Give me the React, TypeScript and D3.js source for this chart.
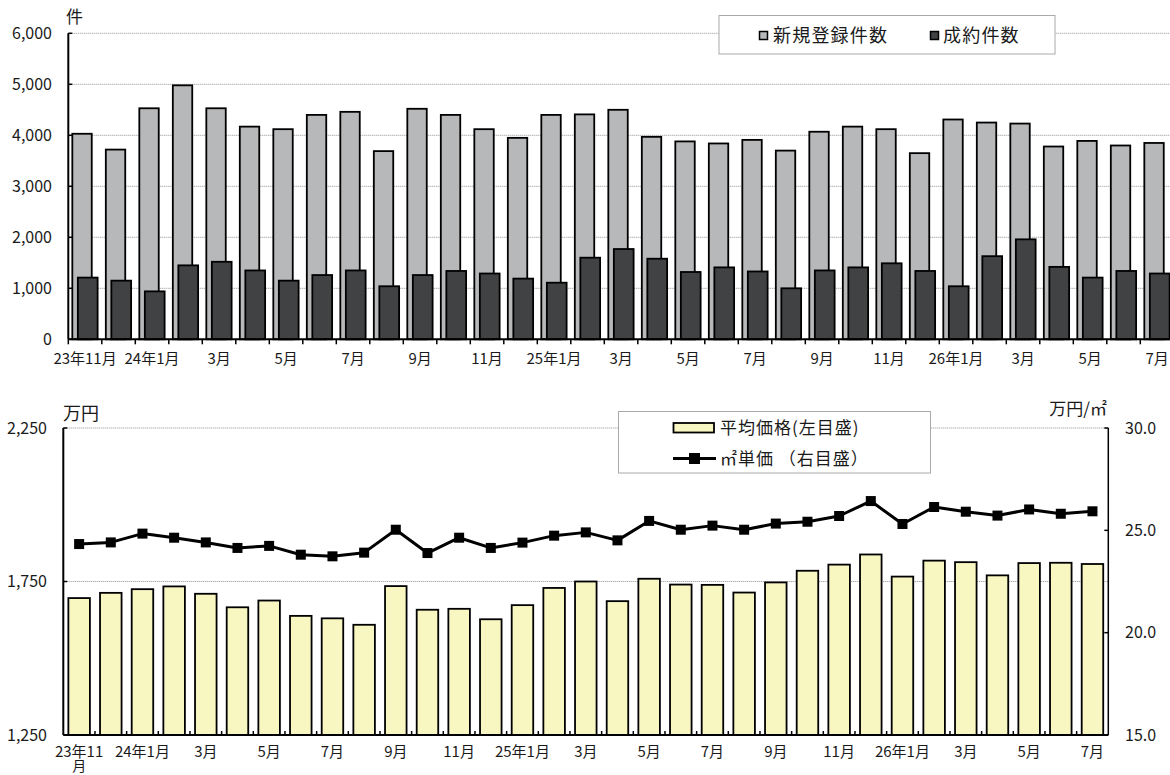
import * as d3 from "d3";

const monthLabels = [
  "23年11月", "", "24年1月", "", "3月", "", "5月", "", "7月", "", "9月", "", "11月", "",
  "25年1月", "", "3月", "", "5月", "", "7月", "", "9月", "", "11月", "",
  "26年1月", "", "3月", "", "5月", "", "7月",
];
// lower chart wraps the first label onto two lines
const priceLabels = monthLabels.map((l, i) => (i === 0 ? "23年11\n月" : l));

const newListings = [
  4030, 3720, 4530, 4980, 4530, 4170, 4120, 4400, 4460, 3690, 4520, 4400, 4120, 3950, 4400, 4410, 4500,
  3970, 3880, 3840, 3910, 3700, 4070, 4170, 4120, 3650, 4310, 4250, 4230, 3780, 3890, 3800, 3850,
];
const contracts = [
  1210, 1150, 940, 1450, 1520, 1350, 1150, 1260, 1350, 1040, 1260, 1340, 1290, 1190, 1110, 1600, 1770,
  1580, 1320, 1410, 1330, 1000, 1350, 1410, 1490, 1340, 1040, 1630, 1960, 1420, 1210, 1340, 1290,
];
const avgPrice = [
  1696, 1713, 1725, 1734, 1710, 1666, 1688, 1638, 1630, 1609, 1735, 1658, 1661, 1627, 1673, 1729, 1750,
  1686, 1759, 1740, 1739, 1714, 1747, 1785, 1805, 1838, 1766, 1818, 1813, 1770, 1810, 1811, 1807,
];
const unitPrice = [
  24.33, 24.41, 24.84, 24.64, 24.41, 24.14, 24.24, 23.81, 23.73, 23.91, 25.03, 23.89, 24.64, 24.14, 24.4, 24.74, 24.9,
  24.51, 25.46, 25.03, 25.23, 25.03, 25.33, 25.42, 25.7, 26.43, 25.31, 26.14, 25.91, 25.72, 26.02, 25.81, 25.93,
];

const countTicks = [0, 1000, 2000, 3000, 4000, 5000, 6000];
const priceTicks = [1250, 1750, 2250];
const unitTicks = [15, 20, 25, 30];

const width = 1170;
const height = 775;
const font = '"Noto Sans CJK JP", "Noto Sans", sans-serif';
const grayFill = "#b7b8ba";
const darkFill = "#404244";
const yellowFill = "#f9f7c1";
const gridColor = "#8f8f8f";
const textColor = "#1a1a1a";

const idx = d3.range(newListings.length);

// upper chart
const top = { left: 68.3, top: 33.3, bottom: 339.3 };
const xTop = d3.scaleBand<number>().domain(idx).range([top.left, top.left + 33.5 * idx.length]);
const yCount = d3.scaleLinear().domain([0, 6000]).range([top.bottom, top.top]);

// lower chart
const low = { left: 63.3, right: 1108.3, top: 428, bottom: 735 };
const xLow = d3.scaleBand<number>().domain(idx).range([low.left, low.right]);
const yPrice = d3.scaleLinear().domain([1250, 2250]).range([low.bottom, low.top]);
const yUnit = d3.scaleLinear().domain([15, 30]).range([low.bottom, low.top]);

const unitLine = d3
  .line<number>()
  .x((i) => (xLow(i) ?? 0) + xLow.bandwidth() / 2)
  .y((i) => yUnit(unitPrice[i]));

export default function App() {
  const bwTop = xTop.bandwidth();
  const bwLow = xLow.bandwidth();
  return (
    <div>
      <style>{`body{margin:0;background:#fff}`}</style>
      <svg width={width} height={height} viewBox={`0 0 ${width} ${height}`} style={{ display: "block", fontFamily: font }}>
        <rect width={width} height={height} fill="#fff" />

        {/* ---- upper chart: listings / contracts ---- */}
        {countTicks.slice(1).map((t) => (
          <line key={t} x1={top.left} x2={width} y1={yCount(t)} y2={yCount(t)} stroke={gridColor} strokeDasharray="1 1" />
        ))}
        {idx.map((i) => {
          const x = xTop(i) ?? 0;
          return (
            <g key={i}>
              <rect x={x + bwTop * 0.12} y={yCount(newListings[i])} width={bwTop * 0.58} height={top.bottom - yCount(newListings[i])} fill={grayFill} stroke="#000" strokeWidth={1.8} />
              <rect x={x + bwTop * 0.285} y={yCount(contracts[i])} width={bwTop * 0.59} height={top.bottom - yCount(contracts[i])} fill={darkFill} stroke="#000" strokeWidth={1.8} />
            </g>
          );
        })}
        <line x1={top.left} x2={top.left} y1={top.top} y2={top.bottom} stroke="#000" strokeWidth={2} />
        <line x1={top.left} x2={width} y1={top.bottom} y2={top.bottom} stroke="#000" strokeWidth={2} />
        {countTicks.map((t) => (
          <g key={t}>
            <line x1={top.left} x2={top.left + 4} y1={yCount(t)} y2={yCount(t)} stroke="#000" strokeWidth={1.5} />
            <text x={52} y={yCount(t)} dy="0.36em" textAnchor="end" fontSize={16} fill={textColor}>
              {d3.format(",")(t)}
            </text>
          </g>
        ))}
        {idx.concat([idx.length]).map((i) => {
          const x = i < idx.length ? xTop(i) ?? 0 : (xTop(i - 1) ?? 0) + bwTop;
          return <line key={i} x1={x} x2={x} y1={top.bottom} y2={top.bottom + 5} stroke="#000" strokeWidth={1.5} />;
        })}
        {monthLabels.map((l, i) =>
          l ? (
            <text key={i} x={(xTop(i) ?? 0) + bwTop / 2} y={364} textAnchor="middle" fontSize={15} fill={textColor}>
              {l}
            </text>
          ) : null
        )}
        <text x={66} y={23} fontSize={17} fill={textColor}>件</text>

        {/* upper legend */}
        <rect x={719} y={15.5} width={336} height={38.5} fill="#fff" stroke="#aaa" />
        <rect x={759.5} y={31.5} width={8} height={8} fill={grayFill} stroke="#000" strokeWidth={1.5} />
        <text x={773} y={42} fontSize={18} letterSpacing={1.2} fill={textColor}>新規登録件数</text>
        <rect x={930.5} y={31.5} width={8} height={8} fill={darkFill} stroke="#000" strokeWidth={1.5} />
        <text x={943} y={42} fontSize={18} letterSpacing={1.2} fill={textColor}>成約件数</text>

        {/* ---- lower chart: average price / unit price ---- */}
        {priceTicks.slice(1).map((t) => (
          <line key={t} x1={low.left} x2={low.right} y1={yPrice(t)} y2={yPrice(t)} stroke={gridColor} strokeDasharray="1 1" />
        ))}
        {idx.map((i) => (
          <rect
            key={i}
            x={(xLow(i) ?? 0) + bwLow * 0.16}
            y={yPrice(avgPrice[i])}
            width={bwLow * 0.68}
            height={low.bottom - yPrice(avgPrice[i])}
            fill={yellowFill}
            stroke="#000"
            strokeWidth={1.8}
          />
        ))}
        <path d={unitLine(idx) ?? ""} fill="none" stroke="#000" strokeWidth={3} strokeLinejoin="round" />
        {idx.map((i) => (
          <rect key={i} x={(xLow(i) ?? 0) + bwLow / 2 - 5} y={yUnit(unitPrice[i]) - 5} width={10} height={10} fill="#000" />
        ))}
        <line x1={low.left} x2={low.left} y1={low.top} y2={low.bottom} stroke="#000" strokeWidth={2} />
        <line x1={low.left} x2={low.right} y1={low.bottom} y2={low.bottom} stroke="#000" strokeWidth={2} />
        <line x1={low.right} x2={low.right} y1={low.top} y2={low.bottom} stroke="#000" strokeWidth={1.5} />
        {priceTicks.map((t) => (
          <g key={t}>
            <line x1={low.left} x2={low.left + 4} y1={yPrice(t)} y2={yPrice(t)} stroke="#000" strokeWidth={1.5} />
            <text x={47} y={yPrice(t)} dy="0.36em" textAnchor="end" fontSize={16} fill={textColor}>
              {d3.format(",")(t)}
            </text>
          </g>
        ))}
        {unitTicks.map((t) => (
          <g key={t}>
            <line x1={low.right - 4} x2={low.right} y1={yUnit(t)} y2={yUnit(t)} stroke="#000" strokeWidth={1.5} />
            <text x={1125} y={yUnit(t)} dy="0.36em" fontSize={16} fill={textColor}>
              {d3.format(".1f")(t)}
            </text>
          </g>
        ))}
        {idx.slice(1).map((i) => {
          const x = xLow(i) ?? 0;
          return <line key={i} x1={x} x2={x} y1={low.bottom} y2={low.bottom - 4} stroke="#000" strokeWidth={1.5} />;
        })}
        {priceLabels.map((l, i) =>
          l
            ? l.split("\n").map((s, k) => (
                <text key={`${i}-${k}`} x={(xLow(i) ?? 0) + bwLow / 2} y={757 + k * 14} textAnchor="middle" fontSize={k === 0 ? 15 : 14} fill={textColor}>
                  {s}
                </text>
              ))
            : null
        )}
        <text x={63} y={420} fontSize={18} fill={textColor}>万円</text>
        <text x={1107} y={415} textAnchor="end" fontSize={17} fill={textColor}>万円/㎡</text>

        {/* lower legend */}
        <rect x={618.5} y={411.5} width={312} height={61.5} fill="#fff" stroke="#aaa" />
        <rect x={673.5} y={423} width={40.5} height={9.5} fill={yellowFill} stroke="#000" strokeWidth={1.8} />
        <text x={720} y={434} fontSize={17} letterSpacing={1} fill={textColor}>平均価格(左目盛)</text>
        <line x1={673} x2={716} y1={458.5} y2={458.5} stroke="#000" strokeWidth={3} />
        <rect x={689} y={453} width={11} height={11} fill="#000" />
        <text x={720} y={465} fontSize={17} letterSpacing={1} fill={textColor}>㎡単価 （右目盛）</text>
      </svg>
    </div>
  );
}
